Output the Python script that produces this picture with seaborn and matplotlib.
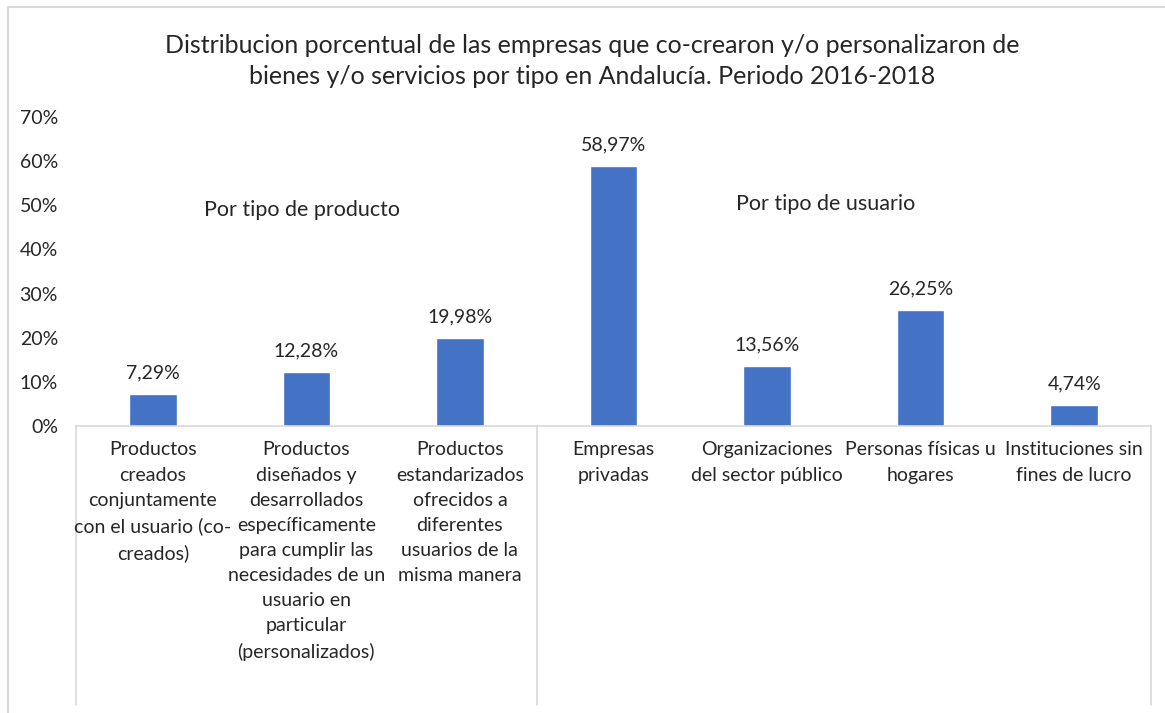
import matplotlib
matplotlib.use("Agg")
import matplotlib.pyplot as plt
from matplotlib.lines import Line2D
import seaborn as sns
import pandas as pd

# ─── Datos ───
categorias = [
    "Productos\ncreados\nconjuntamente\ncon el usuario (co-\ncreados)",
    "Productos\ndiseñados y\ndesarrollados\nespecíficamente\npara cumplir las\nnecesidades de un\nusuario en\nparticular\n(personalizados)",
    "Productos\nestandarizados\nofrecidos a\ndiferentes\nusuarios de la\nmisma manera",
    "Empresas\nprivadas",
    "Organizaciones\ndel sector público",
    "Personas físicas u\nhogares",
    "Instituciones sin\nfines de lucro",
]
valores = [7.29, 12.28, 19.98, 58.97, 13.56, 26.25, 4.74]
grupos = ["Por tipo de producto", "Por tipo de usuario"]
yticks = [0, 10, 20, 30, 40, 50, 60, 70]

titulo = ("Distribucion porcentual de las empresas que co-crearon y/o personalizaron de\n"
          "bienes y/o servicios por tipo en Andalucía. Periodo 2016-2018")

AZUL = "#4472C4"
GRIS = "#D9D9D9"
TXT = "#262626"

sns.set_theme(style="white")
plt.rcParams["font.family"] = ["Lato", "DejaVu Sans"]

df = pd.DataFrame({"categoria": categorias, "valor": valores})

fig = plt.figure(figsize=(11.65, 7.13), dpi=100)
ax = fig.add_axes([76 / 1165, 1 - 426 / 713, 1075 / 1165, 309 / 713])

sns.barplot(data=df, x="categoria", y="valor", color=AZUL, width=0.31,
            saturation=1, ax=ax)

ax.set_ylim(0, 70)
ax.set_xlim(-0.5, len(categorias) - 0.5)
ax.set_yticks(yticks)
ax.set_yticklabels([f"{v}%" for v in yticks])
ax.set_xlabel("")
ax.set_ylabel("")
ax.tick_params(axis="y", length=0, pad=13, labelsize=14, labelcolor=TXT)
ax.tick_params(axis="x", length=0, labelbottom=False)

for s in ["top", "right", "left"]:
    ax.spines[s].set_visible(False)
ax.spines["bottom"].set_color(GRIS)
ax.spines["bottom"].set_linewidth(1.2)

# etiquetas de categoria (texto propio para controlar el interlineado)
trans = ax.get_xaxis_transform()
for i, cat in enumerate(categorias):
    ax.text(i, -0.05, cat, transform=trans, ha="center", va="top",
            fontsize=14, color=TXT, linespacing=1.58, clip_on=False)

# etiquetas de valor
etiquetas = [f"{v:.2f}%".replace(".", ",") for v in valores]
ax.bar_label(ax.containers[0], labels=etiquetas, padding=9,
             fontsize=14, color=TXT)

# lineas del eje de categorias (estilo Excel multinivel)
for xpos in [-0.5, 2.5, len(categorias) - 0.5]:
    ax.add_line(Line2D([xpos, xpos], [0, -0.903], transform=trans,
                       color=GRIS, lw=1.2, clip_on=False))

# textos de grupo
ax.text(0.97, 48.9, grupos[0], ha="center", va="center", fontsize=15.5, color=TXT)
ax.text(4.38, 50.3, grupos[1], ha="center", va="center", fontsize=15.5, color=TXT)

fig.text(592 / 1165, 1 - 61 / 713, titulo, ha="center", va="center",
         fontsize=18, color=TXT, linespacing=1.4)

# borde del grafico
fig.add_artist(Line2D([8 / 1165, 1], [1 - 7 / 713, 1 - 7 / 713],
                      transform=fig.transFigure, color=GRIS, lw=1.5))
fig.add_artist(Line2D([8 / 1165, 8 / 1165], [0, 1 - 7 / 713],
                      transform=fig.transFigure, color=GRIS, lw=1.5))

fig.savefig("out.png", dpi=100)
plt.close()
